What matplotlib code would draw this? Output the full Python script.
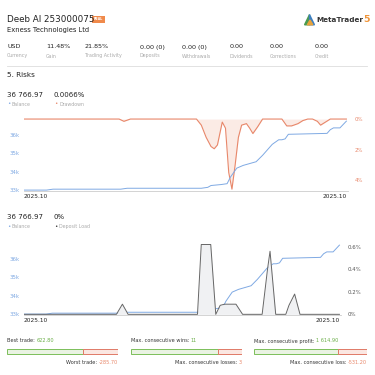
import matplotlib
matplotlib.use("Agg")
import matplotlib.pyplot as plt
from matplotlib.patches import Rectangle, Polygon

# ---- data ----
stat_values = ["USD", "11.48%", "21.85%", "0.00 (0)", "0.00 (0)", "0.00", "0.00", "0.00"]
stat_labels = ["Currency", "Gain", "Trading Activity", "Deposits", "Withdrawals",
               "Dividends", "Corrections", "Credit"]
stat_x = [7, 46, 85, 140, 182, 230, 270, 315]

# balance (k USD) over a 0..100 time index
bal_t = [0, 7, 9, 30, 32, 55, 57, 58, 61, 63, 64, 66, 68, 70, 72, 74, 77, 79, 80,
         81, 82, 94, 95, 96, 98, 100]
bal_v = [33.0, 33.0, 33.05, 33.05, 33.1, 33.1, 33.15, 33.25, 33.3, 33.35, 33.7, 34.2,
         34.35, 34.45, 34.55, 34.9, 35.5, 35.75, 35.75, 35.8, 36.05, 36.1, 36.3, 36.4,
         36.4, 36.77]

# drawdown (%)
dd_t = [0, 29.5, 31, 33, 53.5, 55, 56.5, 58, 59, 60, 61.5, 62.5, 63.5, 64.5, 65.5, 66.5,
        67.5, 69, 70, 71, 72.5, 74, 80, 81.5, 83, 85, 86.5, 88, 89.5, 91, 92, 93.5, 95, 100]
dd_v = [0, 0, 0.15, 0, 0, 0.4, 1.2, 1.8, 1.95, 1.7, 0.2, 0.6, 3.5, 4.6, 3.0, 1.2, 0.4,
        0.3, 0.6, 0.95, 0.5, 0, 0, 0.45, 0.45, 0.3, 0.1, 0, 0, 0.15, 0.4, 0.2, 0, 0]

# deposit load (%)
dl_t = [0, 29.3, 31.2, 33.0, 53.0, 55.0, 56.2, 59.2, 60.8, 62.2, 63.6, 67.2, 69.3, 75.5,
        77.2, 78.0, 79.8, 83.0, 84.0, 85.8, 87.5, 100]
dl_v = [0, 0, 0.09, 0, 0, 0, 0.62, 0.62, 0, 0.08, 0.09, 0.09, 0, 0, 0.4, 0.56, 0, 0,
        0.08, 0.18, 0, 0]

bar_top = ["Best trade:", "Max. consecutive wins:", "Max. consecutive profit:"]
bar_top_val = ["622.80", "11", "1 614.90"]
bar_bot = ["Worst trade:", "Max. consecutive losses:", "Max. consecutive loss:"]
bar_bot_val = ["-285.70", "3", "-531.20"]
bar_x = [(7, 118, 83), (131, 242, 218), (254, 367, 338)]

BLUE = "#7fa9e3"
ORANGE = "#e8876a"
GREEN = "#6aae48"
DARK = "#222222"

W = H = 375
fig = plt.figure(figsize=(3.75, 3.75), dpi=100)
fig.patch.set_facecolor("white")
renderer = fig.canvas.get_renderer()


def px(x, y):
    return x / W, 1 - y / H


def txt(x, y, s, size=4.5, color=DARK, **kw):
    fx, fy = px(x, y)
    return fig.text(fx, fy, s, fontsize=size, color=color, va="center", **kw)


def right_edge(t):
    # right edge of a text in pixels
    return t.get_window_extent(renderer).x1


def axes_px(x0, y0, x1, y1):
    return fig.add_axes([x0 / W, 1 - y1 / H, (x1 - x0) / W, (y1 - y0) / H])


# header
txt(7, 19, "Deeb AI 253000075", size=6.3)
ax_b = axes_px(92, 15.5, 105, 22.5)
ax_b.add_patch(Rectangle((0, 0), 1, 1, color="#f08a4b"))
ax_b.text(0.5, 0.5, "REAL", color="white", fontsize=2.3, ha="center", va="center",
          weight="bold")
ax_b.set_xlim(0, 1); ax_b.set_ylim(0, 1); ax_b.axis("off")
txt(7, 30, "Exness Technologies Ltd", size=4.9)

# MetaTrader logo
ax_l = axes_px(304, 14, 315, 26)
ax_l.add_patch(Polygon([(0.05, 0.1), (0.5, 0.95), (0.5, 0.1)], color="#4a9a4e"))
ax_l.add_patch(Polygon([(0.5, 0.95), (0.95, 0.1), (0.5, 0.1)], color="#3d7fc1"))
ax_l.add_patch(Polygon([(0.3, 0.1), (0.55, 0.5), (0.8, 0.1)], color="#e9a33b"))
ax_l.set_xlim(0, 1); ax_l.set_ylim(0, 1); ax_l.axis("off")
mt = txt(316, 20, "MetaTrader", size=5.2, color="#333333", weight="bold")
txt(right_edge(mt) + 0.5, 20, "5", size=6.8, color="#f0953a", weight="bold")

for v, lab, x in zip(stat_values, stat_labels, stat_x):
    txt(x, 47, v, size=4.6)
    txt(x, 56, lab, size=3.4, color="#aaaaaa")

fig.add_artist(plt.Line2D([7 / W, 367 / W], [1 - 65.5 / H] * 2, color="#dddddd", lw=0.6))
txt(7, 75, "5. Risks", size=5.2)


def legend_row(y, label2, color2):
    txt(7, y, "\u2022", size=4, color=BLUE)
    txt(12, y, "Balance", size=3.4, color="#aaaaaa")
    txt(54, y, "\u2022", size=4, color=color2)
    txt(59, y, label2, size=3.4, color="#aaaaaa")


def style_axes(ax, ax2, right_color):
    for a in (ax, ax2):
        for s in a.spines.values():
            s.set_visible(False)
    ax.spines["bottom"].set_visible(True)
    ax.spines["bottom"].set_color("#cccccc")
    ax.spines["bottom"].set_linewidth(0.6)
    ax.tick_params(axis="y", length=0, labelsize=3.9, labelcolor=BLUE, pad=3)
    ax.tick_params(axis="x", length=0, labelsize=4.2, labelcolor=DARK, pad=2.5)
    ax2.tick_params(axis="y", length=0, labelsize=3.9, labelcolor=right_color, pad=5)
    ax.set_yticks([33, 34, 35, 36])
    ax.set_yticklabels(["33k", "34k", "35k", "36k"])
    ax.set_xticks([0, 100])
    ax.set_xticklabels(["2025.10", "2025.10"])
    ax.get_xticklabels()[0].set_ha("left")
    ax.get_xticklabels()[1].set_ha("right")
    ax.set_xlim(0, 100.5)


# ---- drawdown chart ----
txt(7, 95, "36 766.97", size=5)
txt(54, 95, "0.0066%", size=5)
legend_row(104, "Drawdown", ORANGE)

ax1 = axes_px(24, 116, 348, 191)
ax1r = ax1.twinx()
ax1r.fill_between(dd_t, 0, dd_v, color="#fbe6df", alpha=0.8, lw=0)
ax1r.plot(dd_t, dd_v, color=ORANGE, lw=0.8)
ax1r.set_ylim(4.72, -0.2)
ax1r.set_yticks([0, 2, 4])
ax1r.set_yticklabels(["0%", "2%", "4%"])
ax1.plot(bal_t, bal_v, color=BLUE, lw=0.7)
ax1.set_ylim(32.95, 37.05)
ax1.set_zorder(ax1r.get_zorder() + 1)
ax1.patch.set_visible(False)
style_axes(ax1, ax1r, ORANGE)

# ---- deposit load chart ----
txt(7, 217, "36 766.97", size=5)
txt(54, 217, "0%", size=5)
legend_row(227, "Deposit Load", "#333333")

ax2 = axes_px(24, 240, 341, 315)
ax2r = ax2.twinx()
ax2r.fill_between(dl_t, 0, dl_v, color="#f0f1f3", lw=0)
ax2r.plot(dl_t, dl_v, color="#666666", lw=0.7)
ax2r.set_ylim(-0.006, 0.66)
ax2r.set_yticks([0, 0.2, 0.4, 0.6])
ax2r.set_yticklabels(["0%", "0.2%", "0.4%", "0.6%"])
ax2.plot(bal_t, bal_v, color=BLUE, lw=0.7)
ax2.set_ylim(32.95, 37.05)
style_axes(ax2, ax2r, "#555555")

# ---- bottom bars ----
for top, topv, bot, botv, (x0, x1, xs) in zip(bar_top, bar_top_val, bar_bot, bar_bot_val, bar_x):
    t = txt(x0, 341, top, size=3.6, color="#333333")
    txt(right_edge(t) + 1.5, 341, topv, size=3.6, color=GREEN)
    ax_bar = axes_px(x0, 348.5, x1, 355)
    ax_bar.add_patch(Rectangle((0, 0), xs - x0, 1, facecolor="#eaf3e3", edgecolor="#7cbf5a", lw=0.7))
    ax_bar.add_patch(Rectangle((xs - x0, 0), x1 - xs, 1, facecolor="#fbe7e2", edgecolor="#e07a67", lw=0.7))
    ax_bar.set_xlim(-0.5, x1 - x0 + 0.5); ax_bar.set_ylim(-0.1, 1.1); ax_bar.axis("off")
    bv = txt(x1, 363, botv, size=3.6, color=ORANGE, ha="right")
    left = bv.get_window_extent(renderer).x0
    txt(left - 1.5, 363, bot, size=3.6, color="#333333", ha="right")

fig.savefig("out.png", dpi=100, facecolor="white")
